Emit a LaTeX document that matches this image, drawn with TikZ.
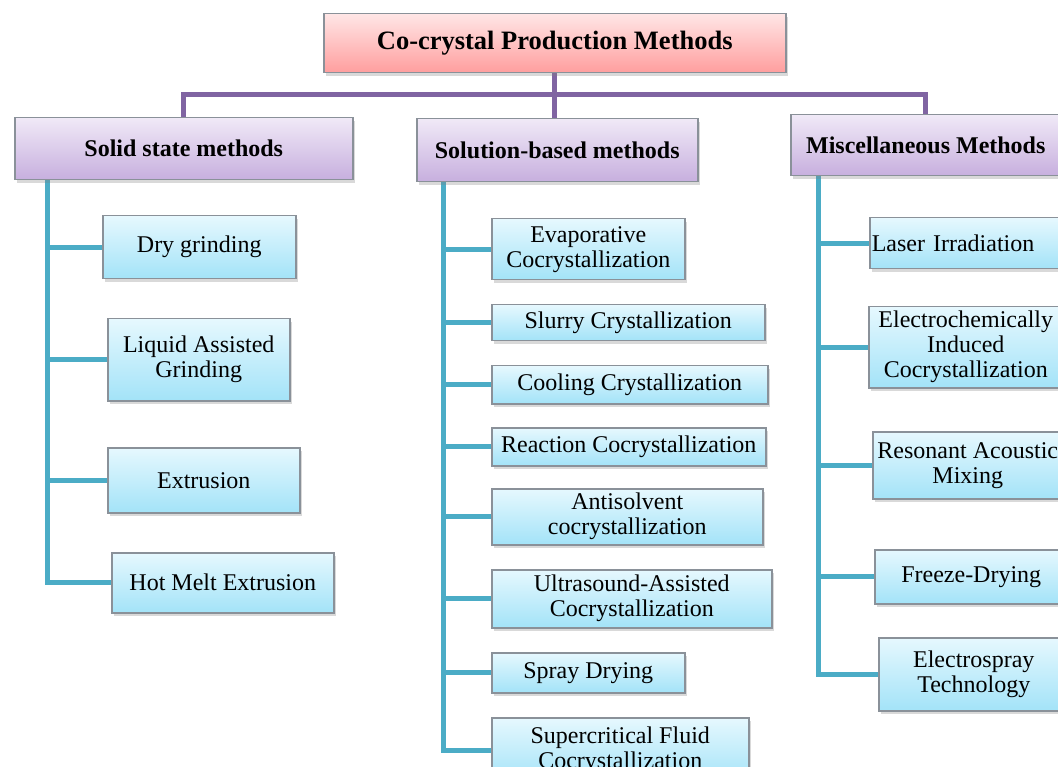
\documentclass[tikz,border=0pt]{standalone}
\usepackage{fontspec}
\setmainfont{Liberation Serif}
\usetikzlibrary{shadows,backgrounds}

\definecolor{trunkpurple}{HTML}{8064A2}
\definecolor{branchteal}{HTML}{4BACC6}
\definecolor{boxedge}{HTML}{8A9199}
\definecolor{titletop}{HTML}{FFE6E6}
\definecolor{titlebot}{HTML}{FF9E9E}
\definecolor{grouptop}{HTML}{F0E9F7}
\definecolor{groupbot}{HTML}{C7AFDE}
\definecolor{leaftop}{HTML}{E6F8FE}
\definecolor{leafbot}{HTML}{A3E3F8}

\tikzset{
  box/.style={rectangle, draw=boxedge, line width=1.5pt, anchor=north west, align=center,
    inner sep=2pt, drop shadow={shadow xshift=2.5pt, shadow yshift=-3pt, opacity=0.3}},
  titlebox/.style={box, top color=titletop, bottom color=titlebot,
    font=\fontsize{26.5}{28}\selectfont\bfseries},
  groupbox/.style={box, top color=grouptop, bottom color=groupbot,
    font=\fontsize{24}{25}\selectfont\bfseries},
  leaf/.style={box, top color=leaftop, bottom color=leafbot, font=\fontsize{24}{25}\selectfont},
  trunk/.style={trunkpurple, line width=5pt},
  branch/.style={branchteal, line width=5pt}
}

\begin{document}
\begin{tikzpicture}[x=1pt, y=-1pt]
    \useasboundingbox (0,0) rectangle (1058,767);

    \node[titlebox, minimum width=462pt, minimum height=59pt] (title) at (323,13) {Co-crystal Production Methods};

    \node[groupbox, minimum width=338pt, minimum height=62pt] (solid) at (14,117) {Solid state methods};
    \node[groupbox, minimum width=281pt, minimum height=63pt] (solution) at (416,118) {Solution-based methods};
    \node[groupbox, minimum width=270pt, minimum height=61pt] (misc) at (790,114) {Miscellaneous Methods};

    \node[leaf, minimum width=193pt, minimum height=63pt] (dry) at (102,215) {Dry grinding};
    \node[leaf, minimum width=182pt, minimum height=82pt] (lag) at (107,318) {Liquid Assisted\\Grinding};
    \node[leaf, minimum width=192pt, minimum height=65pt] (extr) at (107,447) {Extrusion};
    \node[leaf, minimum width=222pt, minimum height=60pt] (hme) at (111,552) {Hot Melt Extrusion};

    \node[leaf, minimum width=193pt, minimum height=61pt] (evap) at (491,218) {Evaporative\\Cocrystallization};
    \node[leaf, minimum width=273pt, minimum height=36pt] (slurry) at (491,304) {Slurry Crystallization};
    \node[leaf, minimum width=276pt, minimum height=38pt] (cooling) at (491,365) {Cooling Crystallization};
    \node[leaf, minimum width=274pt, minimum height=38pt] (reaction) at (491,427) {Reaction Cocrystallization};
    \node[leaf, minimum width=271pt, minimum height=56pt] (antisolv) at (491,488) {Antisolvent\\cocrystallization};
    \node[leaf, minimum width=280pt, minimum height=58pt] (ultra) at (491,569) {Ultrasound-Assisted\\Cocrystallization};
    \node[leaf, minimum width=193pt, minimum height=40pt] (spray) at (491,652) {Spray Drying};
    \node[leaf, minimum width=257pt, minimum height=65pt] (scf) at (491,717) {Supercritical Fluid\\Cocrystallization};

    \node[leaf, minimum width=201pt, minimum height=51pt, text width=197pt, align=left] (laser) at (869,217) {Laser Irradiation};
    \node[leaf, minimum width=194pt, minimum height=81pt] (echem) at (868,306) {Electrochemically\\Induced\\Cocrystallization};
    \node[leaf, minimum width=190pt, minimum height=67pt] (ram) at (872,431) {Resonant Acoustic\\Mixing};
    \node[leaf, minimum width=193pt, minimum height=54pt] (freeze) at (874,549) {Freeze-Drying};
    \node[leaf, minimum width=190pt, minimum height=73pt] (espray) at (878,637) {Electrospray\\Technology};

    \coordinate (bus) at (554,95);
    \coordinate (sroot) at (47,179);
    \coordinate (lroot) at (443,181);
    \coordinate (mroot) at (818,175);

    \begin{pgfonlayer}{background}
        \draw[trunk] (title.south) -- (title.south |- solution.north);
        \draw[trunk] (solid.north) |- (bus) -| (misc.north);

        \draw[branch] (sroot) |- (hme.west);
        \foreach \n in {dry, lag, extr}
            \draw[branch] (sroot |- \n.west) -- (\n.west);

        \draw[branch] (lroot) |- (scf.west);
        \foreach \n in {evap, slurry, cooling, reaction, antisolv, ultra, spray}
            \draw[branch] (lroot |- \n.west) -- (\n.west);

        \draw[branch] (mroot) |- (espray.west);
        \foreach \n in {laser, echem, ram, freeze}
            \draw[branch] (mroot |- \n.west) -- (\n.west);
    \end{pgfonlayer}
\end{tikzpicture}
\end{document}
